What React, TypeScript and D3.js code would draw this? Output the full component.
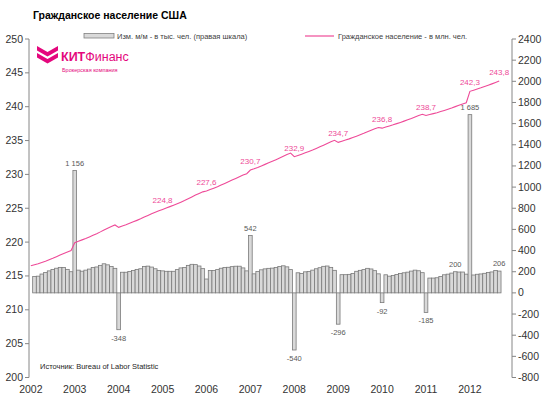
import React from "react";
import * as d3 from "d3";

// ---- data ----
const years = [2002, 2003, 2004, 2005, 2006, 2007, 2008, 2009, 2010, 2011, 2012];
const leftTicks = [200, 205, 210, 215, 220, 225, 230, 235, 240, 245, 250];
const rightTicks = [-800, -600, -400, -200, 0, 200, 400, 600, 800, 1000, 1200, 1400, 1600, 1800, 2000, 2200, 2400];

// monthly change, thousands (Jan..Dec per row), starts Jan 2002
const monthlyChange: (number | null)[] = [
  null, 155, 158, 178, 192, 208, 222, 233, 241, 240, 222, 200,
  1156, 215, 205, 215, 225, 240, 245, 260, 275, 265, 250, 232,
  -348, 195, 195, 203, 212, 222, 228, 250, 253, 244, 228, 212,
  208, 204, 204, 204, 220, 236, 239, 260, 270, 267, 254, 229,
  131, 211, 211, 220, 233, 240, 242, 248, 252, 252, 236, 208,
  542, 180, 203, 218, 227, 232, 234, 240, 250, 256, 246, 220,
  -540, 190, 184, 199, 203, 215, 228, 238, 251, 254, 241, 213,
  -296, 172, 172, 175, 184, 204, 213, 220, 232, 226, 210, 180,
  -92, 171, 158, 164, 174, 183, 190, 196, 206, 215, 209, 191,
  -185, 140, 140, 143, 155, 171, 177, 187, 200, 197, 197, 177,
  1685, 169, 176, 179, 185, 192, 198, 211, 206,
];

// civilian population, millions
const population: number[] = [
  216.50, 216.66, 216.81, 216.99, 217.18, 217.39, 217.61, 217.85, 218.09, 218.33, 218.55, 218.75,
  219.91, 220.12, 220.33, 220.54, 220.77, 221.01, 221.25, 221.51, 221.79, 222.05, 222.30, 222.53,
  222.18, 222.38, 222.57, 222.78, 222.99, 223.21, 223.44, 223.69, 223.94, 224.19, 224.41, 224.63,
  224.83, 225.04, 225.24, 225.45, 225.67, 225.90, 226.14, 226.40, 226.67, 226.94, 227.19, 227.42,
  227.55, 227.76, 227.97, 228.19, 228.43, 228.67, 228.91, 229.16, 229.41, 229.66, 229.90, 230.11,
  230.65, 230.83, 231.03, 231.25, 231.48, 231.71, 231.94, 232.18, 232.43, 232.69, 232.93, 233.15,
  232.61, 232.80, 232.99, 233.19, 233.39, 233.60, 233.83, 234.07, 234.32, 234.58, 234.82, 235.03,
  234.73, 234.91, 235.08, 235.25, 235.44, 235.64, 235.85, 236.07, 236.31, 236.53, 236.74, 236.92,
  236.83, 237.00, 237.16, 237.32, 237.50, 237.68, 237.87, 238.07, 238.27, 238.49, 238.70, 238.89,
  238.70, 238.84, 238.98, 239.12, 239.28, 239.45, 239.63, 239.81, 240.01, 240.21, 240.41, 240.59,
  242.27, 242.44, 242.62, 242.79, 242.98, 243.17, 243.37, 243.58, 243.79,
];

// labelled points (month index from Jan 2002)
const barLabelIdx = [12, 24, 60, 72, 84, 96, 108, 116, 120, 128];
const barLabelText = ["1 156", "-348", "542", "-540", "-296", "-92", "-185", "200", "1 685", "206"];
const lineLabelIdx = [36, 48, 60, 72, 84, 96, 108, 120, 128];
const lineLabelText = ["224,8", "227,6", "230,7", "232,9", "234,7", "236,8", "238,7", "242,3", "243,8"];

const title = "Гражданское население США";
const legendBar = "Изм. м/м - в тыс. чел. (правая шкала)";
const legendLine = "Гражданское население - в млн. чел.";
const source = "Источник: Bureau of Labor Statistic";

// ---- style ----
const PINK = "#ee4a98";
const LOGO = "#e4077d";
const AXIS = "#868686";
const TXT = "#333333";
const FONT = "'Liberation Sans', Arial, sans-serif";

export default function App() {
  const W = 550, H = 400;
  const left = 29, right = 512, top = 39, bottom = 377.5;
  const nCats = 132;

  const x = d3.scaleBand<number>().domain(d3.range(nCats)).range([left, right]).padding(0);
  const yL = d3.scaleLinear().domain([200, 250]).range([bottom, top]);
  const yR = d3.scaleLinear().domain([-800, 2400]).range([bottom, top]);
  const cx = (i: number) => (x(i) as number) + x.bandwidth() / 2;

  const line = d3.line<number>().x((_, i) => cx(i)).y((d) => yL(d));

  return (
    <svg width={W} height={H} style={{ position: "absolute", left: 0, top: 0, fontFamily: FONT }}>
      <rect x={0} y={0} width={W} height={H} fill="#fff" />
      <text x={33} y={19} fontSize={10.5} fontWeight="bold" fill="#000">{title}</text>

      {/* legend */}
      <rect x={84} y={33.5} width={30} height={4.5} fill="#d9d9d9" stroke="#808080" strokeWidth={0.8} />
      <text x={117} y={38.5} fontSize={7.5} fill="#404040">{legendBar}</text>
      <line x1={305} x2={334} y1={36} y2={36} stroke={PINK} strokeWidth={1.2} />
      <text x={338} y={38.5} fontSize={7.5} fill="#404040">{legendLine}</text>

      {/* logo */}
      <g fill={LOGO}>
        <path d="M37,46 L47.5,52 L58,46 L58,50.5 L47.5,56.5 L37,50.5 Z" />
        <path d="M37,53 L47.5,59 L58,53 L58,57.5 L47.5,63.5 L37,57.5 Z" />
        <text x={61} y={61} fontSize={12.5}>
          <tspan fontWeight="bold">КИТ</tspan>
          <tspan>Финанс</tspan>
        </text>
        <text x={62} y={71.5} fontSize={5.5}>Брокерская компания</text>
      </g>

      {/* bars */}
      <g>
        {monthlyChange.map((v, i) =>
          v === null ? null : (
            <rect
              key={i}
              x={x(i) as number}
              width={x.bandwidth()}
              y={Math.min(yR(v), yR(0))}
              height={Math.abs(yR(v) - yR(0))}
              fill="#d9d9d9"
              stroke="#7a7a7a"
              strokeWidth={0.8}
            />
          )
        )}
      </g>

      {/* line */}
      <path d={line(population) || ""} fill="none" stroke={PINK} strokeWidth={1.1} />

      {/* bar labels */}
      {barLabelIdx.map((idx, k) => {
        const v = monthlyChange[idx] as number;
        const yy = v >= 0 ? yR(v) - 5 : yR(v) + 11;
        return (
          <text key={k} x={cx(idx)} y={yy} fontSize={7.5} fill="#595959" textAnchor="middle">
            {barLabelText[k]}
          </text>
        );
      })}

      {/* line labels */}
      {lineLabelIdx.map((idx, k) => (
        <text key={k} x={cx(idx)} y={yL(population[idx]) - 6} fontSize={8} fill={PINK} textAnchor="middle">
          {lineLabelText[k]}
        </text>
      ))}

      {/* left axis */}
      <line x1={left} x2={left} y1={top} y2={bottom} stroke={AXIS} strokeWidth={1} />
      {leftTicks.map((t) => (
        <g key={t}>
          <line x1={left - 4} x2={left} y1={yL(t)} y2={yL(t)} stroke={AXIS} />
          <text x={left - 6} y={yL(t) + 3.5} fontSize={10.5} fill={TXT} textAnchor="end">{t}</text>
        </g>
      ))}

      {/* right axis */}
      <line x1={right} x2={right} y1={top} y2={bottom} stroke={AXIS} strokeWidth={1} />
      {rightTicks.map((t) => (
        <g key={t}>
          <line x1={right} x2={right + 4} y1={yR(t)} y2={yR(t)} stroke={AXIS} />
          <text x={right + 6} y={yR(t) + 3.5} fontSize={10.5} fill={TXT}>{t}</text>
        </g>
      ))}

      {/* x labels */}
      {years.map((yr, k) => (
        <text key={yr} x={cx(k * 12)} y={393} fontSize={10.5} fill={TXT} textAnchor="middle">{yr}</text>
      ))}

      <text x={40} y={369} fontSize={7.5} fill="#262626">{source}</text>
    </svg>
  );
}
